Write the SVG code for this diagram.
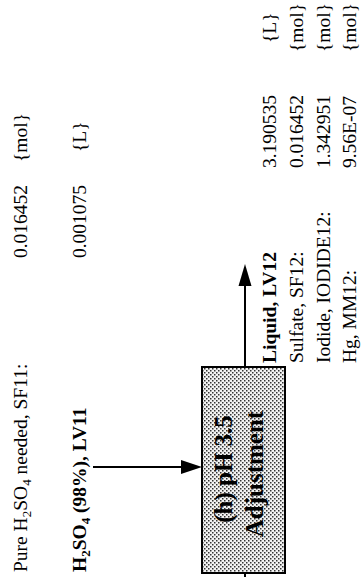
<svg xmlns="http://www.w3.org/2000/svg" width="363" height="577" viewBox="0 0 363 577">
  <style>
    text { font-family: "Liberation Serif", "Times New Roman", serif; font-size: 19.5px; fill: #000; }
    .b { font-weight: bold; }
    .box { font-size: 25px; font-weight: bold; }
    .sub { font-size: 13px; }
    .ln { stroke: #000; stroke-width: 2; fill: none; }
  </style>
  <defs>
    <pattern id="stip" width="4" height="4" patternUnits="userSpaceOnUse">
      <rect width="4" height="4" fill="#f2f2f2"/>
      <rect x="0" y="0" width="1.5" height="1.5" fill="#333"/>
      <rect x="2" y="2" width="1.5" height="1.5" fill="#333"/>
    </pattern>
  </defs>

  <g id="connectors">
    <line class="ln" x1="93" y1="467" x2="183" y2="467"/>
    <path d="M181,460 L202,467 L181,474 Z" fill="#000"/>
    <line class="ln" x1="245" y1="368" x2="245" y2="284"/>
    <path d="M238.5,286 L245,264 L251.5,286 Z" fill="#000"/>
    <line class="ln" x1="245" y1="572" x2="245" y2="577"/>
  </g>

  <g id="node-h">
    <rect x="202" y="367" width="83" height="206" fill="url(#stip)" stroke="#000" stroke-width="2"/>
    <text class="box" transform="translate(232,469) rotate(-90)" text-anchor="middle">(h) pH 3.5</text>
    <text class="box" transform="translate(263,474) rotate(-90)" text-anchor="middle">Adjustment</text>
  </g>

  <g id="input-LV11">
    <text transform="translate(27,572) rotate(-90)">Pure H<tspan class="sub" dy="4">2</tspan><tspan dy="-4">SO</tspan><tspan class="sub" dy="4">4</tspan><tspan dy="-4"> needed, SF11:</tspan></text>
    <text transform="translate(27,258) rotate(-90)">0.016452</text>
    <text transform="translate(27,162) rotate(-90)">{mol}</text>
    <text class="b" transform="translate(86,572) rotate(-90)">H<tspan class="sub" dy="4">2</tspan><tspan dy="-4">SO</tspan><tspan class="sub" dy="4">4</tspan><tspan dy="-4"> (98%), LV11</tspan></text>
    <text transform="translate(86,258) rotate(-90)">0.001075</text>
    <text transform="translate(86,152) rotate(-90)">{L}</text>
  </g>

  <g id="output-LV12">
    <text class="b" transform="translate(276,363) rotate(-90)">Liquid, LV12</text>
    <text transform="translate(303,363) rotate(-90)">Sulfate, SF12:</text>
    <text transform="translate(330,363) rotate(-90)">Iodide, IODIDE12:</text>
    <text transform="translate(356,363) rotate(-90)">Hg, MM12:</text>
    <text transform="translate(276,168) rotate(-90)">3.190535</text>
    <text transform="translate(303,168) rotate(-90)">0.016452</text>
    <text transform="translate(330,168) rotate(-90)">1.342951</text>
    <text transform="translate(356,168) rotate(-90)">9.56E-07</text>
    <text transform="translate(276,43) rotate(-90)">{L}</text>
    <text transform="translate(303,52) rotate(-90)">{mol}</text>
    <text transform="translate(330,52) rotate(-90)">{mol}</text>
    <text transform="translate(356,52) rotate(-90)">{mol}</text>
  </g>
</svg>
